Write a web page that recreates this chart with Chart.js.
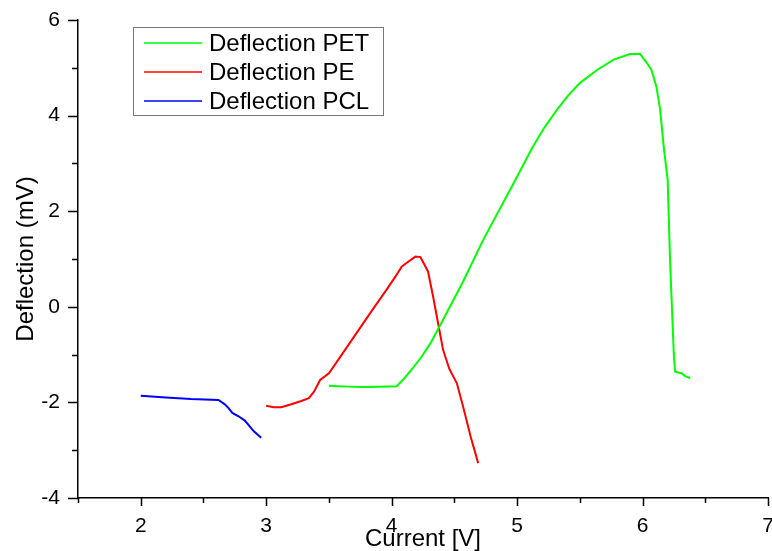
<!DOCTYPE html>
<html>
<head>
<meta charset="utf-8">
<script src="https://cdn.jsdelivr.net/npm/chart.js@4/dist/chart.umd.min.js"></script>
<style>
  body { margin: 0; background: #fff; }
  #wrap { width: 772px; height: 551px; }
</style>
</head>
<body>
<div id="wrap"><canvas id="chart" width="772" height="551"></canvas></div>
<script>
// values
const petX = [3.50, 3.65, 3.77, 3.90, 4.04, 4.10, 4.17, 4.24, 4.31, 4.41, 4.57, 4.73, 5.00, 5.12, 5.21, 5.32, 5.41, 5.50, 5.64, 5.77, 5.90, 5.98, 6.03, 6.07, 6.11, 6.14, 6.17, 6.20, 6.22, 6.25, 6.26, 6.31, 6.34, 6.38];
const petY = [-1.65, -1.67, -1.68, -1.67, -1.66, -1.50, -1.28, -1.04, -0.76, -0.27, 0.53, 1.40, 2.72, 3.32, 3.72, 4.13, 4.43, 4.68, 4.96, 5.17, 5.29, 5.29, 5.12, 4.96, 4.61, 4.13, 3.32, 2.66, 0.92, -1.04, -1.36, -1.39, -1.45, -1.49];

const peX = [3.00, 3.06, 3.12, 3.20, 3.28, 3.34, 3.38, 3.43, 3.50, 3.60, 3.72, 3.84, 3.96, 4.03, 4.08, 4.11, 4.19, 4.23, 4.29, 4.33, 4.37, 4.41, 4.46, 4.52, 4.57, 4.63, 4.69];
const peY = [-2.07, -2.10, -2.10, -2.04, -1.97, -1.91, -1.78, -1.53, -1.39, -1.01, -0.55, -0.09, 0.36, 0.63, 0.84, 0.90, 1.05, 1.04, 0.74, 0.22, -0.34, -0.90, -1.30, -1.60, -2.09, -2.72, -3.27];

const pclX = [2.00, 2.20, 2.40, 2.62, 2.67, 2.70, 2.73, 2.78, 2.83, 2.90, 2.96];
const pclY = [-1.86, -1.90, -1.93, -1.95, -2.04, -2.12, -2.22, -2.29, -2.38, -2.60, -2.74];

const seriesNames = ['Deflection PET', 'Deflection PE', 'Deflection PCL'];
const seriesColors = ['#00ff00', '#ff0000', '#0000ff'];

const xTitle = 'Current [V]';
const yTitle = 'Deflection (mV)';

const FONT = '"Liberation Sans", Arial, sans-serif';

function pts(xs, ys) {
  return xs.map((x, i) => ({ x: x, y: ys[i] }));
}

// tick marks, long on labelled values and short in between
const tickMarks = {
  id: 'tickMarks',
  afterDraw(chart) {
    const ctx = chart.ctx;
    const xs = chart.scales.x, ys = chart.scales.y;
    const a = chart.chartArea;
    ctx.save();
    ctx.strokeStyle = '#000';
    ctx.lineWidth = 1.5;
    ctx.beginPath();
    xs.ticks.forEach(t => {
      const px = Math.round(xs.getPixelForValue(t.value)) + 0.5;
      const len = Number.isInteger(t.value) ? 8 : 5;
      ctx.moveTo(px, a.bottom);
      ctx.lineTo(px, a.bottom + len);
    });
    ys.ticks.forEach(t => {
      const py = Math.round(ys.getPixelForValue(t.value)) + 0.5;
      const len = t.value % 2 === 0 ? 10 : 6;
      ctx.moveTo(a.left, py);
      ctx.lineTo(a.left - len, py);
    });
    ctx.stroke();
    ctx.restore();
  }
};

// boxed legend at the top left of the plot
const boxLegend = {
  id: 'boxLegend',
  afterDraw(chart) {
    const ctx = chart.ctx;
    ctx.save();
    ctx.strokeStyle = '#777';
    ctx.lineWidth = 1;
    ctx.strokeRect(133.5, 27.5, 250, 88);
    ctx.font = '24px ' + FONT;
    ctx.textBaseline = 'middle';
    ctx.fillStyle = '#000';
    chart.data.datasets.forEach((ds, i) => {
      const y = 43 + i * 29;
      ctx.strokeStyle = ds.borderColor;
      ctx.lineWidth = 1.5;
      ctx.beginPath();
      ctx.moveTo(144, y);
      ctx.lineTo(202, y);
      ctx.stroke();
      ctx.fillText(ds.label, 209, y + 1);
    });
    ctx.restore();
  }
};

const datasets = [pts(petX, petY), pts(peX, peY), pts(pclX, pclY)].map((d, i) => ({
  label: seriesNames[i],
  data: d,
  borderColor: seriesColors[i],
  backgroundColor: seriesColors[i],
  borderWidth: 2,
  pointRadius: 0,
  fill: false,
  tension: 0
}));

const ctx = document.getElementById('chart').getContext('2d');
const myChart = new Chart(ctx, {
  type: 'line',
  data: { datasets: datasets },
  options: {
    responsive: false,
    animation: false,
    layout: { padding: { top: 20, right: 4, left: 0, bottom: 0 } },
    plugins: {
      legend: { display: false },
      tooltip: { enabled: false }
    },
    scales: {
      x: {
        type: 'linear',
        min: 1.5,
        max: 7,
        afterFit: s => { s.height = 53; s.paddingLeft = 0; s.paddingRight = 0; },
        grid: { display: false, drawTicks: false },
        border: { display: true, color: '#000', width: 1.5 },
        ticks: {
          stepSize: 0.5,
          autoSkip: false,
          maxRotation: 0,
          padding: 16,
          color: '#000',
          font: { family: FONT, size: 21 },
          callback: v => Number.isInteger(v) ? v : ''
        },
        title: {
          display: true,
          text: xTitle,
          color: '#000',
          font: { family: FONT, size: 24, lineHeight: 1.0 },
          padding: 0
        }
      },
      y: {
        type: 'linear',
        min: -4,
        max: 6,
        afterFit: s => { s.width = 78; s.paddingTop = 0; s.paddingBottom = 0; },
        grid: { display: false, drawTicks: false },
        border: { display: true, color: '#000', width: 1.5 },
        ticks: {
          stepSize: 1,
          autoSkip: false,
          padding: 18,
          color: '#000',
          font: { family: FONT, size: 21 },
          callback: v => v % 2 === 0 ? v : ''
        },
        title: {
          display: true,
          text: yTitle,
          color: '#000',
          font: { family: FONT, size: 24 },
          padding: { top: 12, bottom: 0 }
        }
      }
    }
  },
  plugins: [tickMarks, boxLegend]
});
</script>
</body>
</html>
